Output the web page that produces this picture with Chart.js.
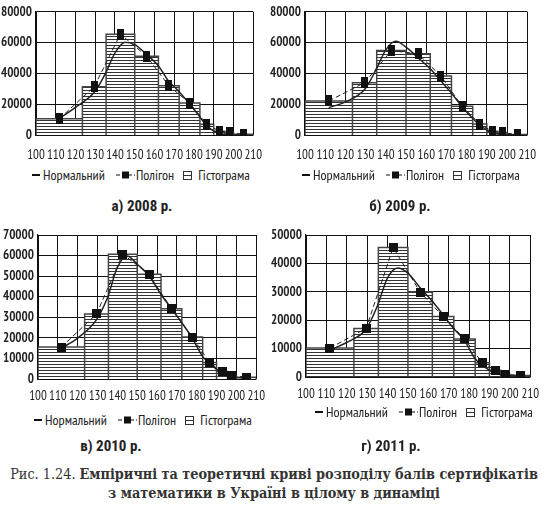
<!DOCTYPE html>
<html>
<head>
<meta charset="utf-8">
<script src="https://cdn.jsdelivr.net/npm/chart.js@4"></script>
<style>
  body { margin: 0; width: 548px; height: 511px; background: #fff; position: relative; overflow: hidden;
         font-family: "PT Sans Narrow", "Roboto Condensed", sans-serif; color: #222; }
  canvas { position: absolute; }
  .legend { position: absolute; display: flex; align-items: center; font-size: 14px; white-space: nowrap; }
  .legend .s1 { margin-right: 3px; }
  .legend .s2 { margin-right: 1px; }
  .legend .s3 { margin-right: 5px; }
  .legend .t1 { margin-right: 11px; }
  .legend .t2 { margin-right: 9px; }
  .sub { position: absolute; font-family: "Roboto Condensed", "PT Sans Narrow", sans-serif; font-size: 15px;
         font-weight: bold; white-space: nowrap; transform: translateX(-50%); }
  .caption { position: absolute; left: 0; width: 548px; text-align: center; white-space: nowrap;
             font-family: "DejaVu Serif Condensed", "DejaVu Serif", serif; font-size: 14.3px; line-height: 19px; color: #333; }
</style>
</head>
<body>
<canvas id="c2008" width="274" height="165" style="left:0;top:0"></canvas>
<canvas id="c2009" width="278" height="165" style="left:270px;top:0"></canvas>
<canvas id="c2010" width="274" height="189" style="left:0;top:220px"></canvas>
<canvas id="c2011" width="278" height="187" style="left:270px;top:220px"></canvas>

<div class="legend" style="left:32px;top:166px" id="lg2008"></div>
<div class="legend" style="left:302px;top:166px" id="lg2009"></div>
<div class="legend" style="left:34px;top:411px" id="lg2010"></div>
<div class="legend" style="left:315px;top:403px" id="lg2011"></div>

<div class="sub" style="left:142px;top:197px">а) 2008 р.</div>
<div class="sub" style="left:400px;top:197px">б) 2009 р.</div>
<div class="sub" style="left:111px;top:437px">в) 2010 р.</div>
<div class="sub" style="left:391px;top:437px">г) 2011 р.</div>

<div class="caption" style="top:465px">Рис. 1.24. <b>Емпіричні та теоретичні криві розподілу балів сертифікатів</b><br><b>з математики в Україні в цілому в динаміці</b></div>

<script>
// score bins (the same for every year) and their midpoints for the polygon
const binEdges = [100, 123.5, 135.5, 150, 162, 172.5, 183, 190, 195.5, 200, 210];
const midPoints = [111.75, 129.5, 142.75, 156, 167.25, 177.75, 186.5, 192.75, 197.75, 205];
const normalX = [111.75, 120, 129.5, 135, 140, 145, 150, 156, 162, 167, 172, 177.75, 183, 186.5, 192.75, 197.75, 205];

// frequencies per bin (histogram and polygon)
const freq2008 = [10500, 31400, 65500, 51200, 32000, 20700, 7000, 2500, 1500, 500];
const freq2009 = [22100, 34000, 54800, 52700, 38300, 18700, 7100, 2400, 1600, 300];
const freq2010 = [15500, 31600, 60700, 50900, 34100, 20400, 8000, 3600, 1800, 800];
const freq2011 = [10200, 17100, 45600, 29900, 21300, 13400, 5000, 2400, 1000, 500];

// theoretical (normal) curve
const normal2008 = [10700, 18000, 27700, 39500, 53300, 60300, 58700, 52300, 44800, 35200, 28800, 20300, 11700, 5800, 1000, 200, 0];
const normal2009 = [17800, 21500, 29500, 42000, 55300, 60800, 57000, 50100, 43000, 35500, 28000, 18300, 10700, 6400, 1500, 400, 0];
const normal2010 = [15000, 19900, 28900, 39500, 54200, 59800, 55800, 50100, 41100, 34600, 28000, 19900, 10900, 7700, 2800, 1100, 300];
const normal2011 = [9500, 12200, 16900, 25000, 34900, 38400, 36600, 31400, 26700, 22100, 17400, 12800, 6400, 4100, 1400, 600, 200];

const xTicks = [100, 110, 120, 130, 140, 150, 160, 170, 180, 190, 200, 210];
const legendNames = ['Нормальний', 'Полігон', 'Гістограма'];

const NARROW = '"PT Sans Narrow", "Roboto Condensed", sans-serif';

function hatch(ctx) {
    const p = document.createElement('canvas');
    p.width = 4; p.height = 3;
    const g = p.getContext('2d');
    g.fillStyle = '#fff';
    g.fillRect(0, 0, 4, 3);
    g.fillStyle = '#333';
    g.fillRect(0, 0, 4, 1);
    return ctx.createPattern(p, 'repeat');
}

function marker(w, h) {
    const m = document.createElement('canvas');
    m.width = w; m.height = h;
    const g = m.getContext('2d');
    g.fillStyle = '#111';
    g.fillRect(0, 0, w, h);
    return m;
}

// outline of every bar as one path, so each bar gets its full side edges
function histPoints(freq) {
    const pts = [];
    for (let i = 0; i < freq.length; i++) {
        pts.push({x: binEdges[i], y: 0}, {x: binEdges[i], y: freq[i]},
                 {x: binEdges[i + 1], y: freq[i]}, {x: binEdges[i + 1], y: 0});
    }
    return pts;
}

function makeChart(id, freq, normal, yMax, yStep, yWidth, pad, mark) {
    const ctx = document.getElementById(id).getContext('2d');
    return new Chart(ctx, {
        type: 'line',
        data: {
            datasets: [
                {
                    label: legendNames[2],
                    data: histPoints(freq),
                    borderColor: '#444',
                    borderWidth: 1.5,
                    backgroundColor: hatch(ctx),
                    fill: 'origin',
                    pointRadius: 0,
                    tension: 0,
                    order: 3
                },
                {
                    label: legendNames[0],
                    data: normalX.map((x, i) => ({x: x, y: normal[i]})),
                    borderColor: '#222',
                    borderWidth: 1.5,
                    pointRadius: 0,
                    cubicInterpolationMode: 'monotone',
                    fill: false,
                    order: 2
                },
                {
                    label: legendNames[1],
                    data: midPoints.map((x, i) => ({x: x, y: freq[i]})),
                    borderColor: '#222',
                    borderWidth: 1,
                    borderDash: [5, 3],
                    pointStyle: mark,
                    pointRadius: 5,
                    fill: false,
                    order: 1
                }
            ]
        },
        options: {
            responsive: false,
            animation: false,
            layout: {padding: pad},
            plugins: {legend: {display: false}, tooltip: {enabled: false}},
            scales: {
                x: {
                    type: 'linear',
                    min: 100,
                    max: 210,
                    afterBuildTicks: s => { s.ticks = xTicks.map(v => ({value: v})); },
                    afterFit: s => { s.height = 30; },
                    grid: {color: '#111', lineWidth: 1, drawTicks: false},
                    border: {color: '#111', width: 1.2},
                    ticks: {color: '#222', padding: pad.tickPad, maxRotation: 0, autoSkip: false,
                            font: {family: NARROW, size: 13}}
                },
                y: {
                    min: 0,
                    max: yMax,
                    afterFit: s => { s.width = yWidth; },
                    grid: {color: '#111', lineWidth: 1, drawTicks: false},
                    border: {color: '#111', width: 1.2},
                    ticks: {stepSize: yStep, color: '#222', padding: 4,
                            font: {family: NARROW, size: 13, weight: 'bold'},
                            callback: v => v}
                }
            }
        }
    });
}

function makeLegend(id) {
    const el = document.getElementById(id);
    el.innerHTML =
        '<svg class="s1" width="8" height="10"><line x1="0" y1="5" x2="8" y2="5" stroke="#111" stroke-width="2"/></svg>' +
        '<span class="t1">' + legendNames[0] + '</span>' +
        '<svg class="s2" width="19" height="10"><line x1="0" y1="5" x2="19" y2="5" stroke="#111" stroke-width="1.2" stroke-dasharray="4,2"/>' +
        '<rect x="6" y="1.5" width="7" height="7" fill="#111"/></svg>' +
        '<span class="t2">' + legendNames[1] + '</span>' +
        '<svg class="s3" width="10" height="10"><rect x="0.5" y="1.5" width="8" height="8" fill="#fff" stroke="#333"/>' +
        '<line x1="0.5" y1="5.5" x2="8.5" y2="5.5" stroke="#333"/></svg>' +
        '<span>' + legendNames[2] + '</span>';
}

const tall = marker(7, 11);
const square = marker(9, 9);

makeChart('c2008', freq2008, normal2008, 80000, 20000, 36, {top: 10, right: 13, left: 0, bottom: 0, tickPad: 12}, tall);
makeChart('c2009', freq2009, normal2009, 80000, 20000, 35, {top: 11, right: 13, left: 0, bottom: 0, tickPad: 12}, tall);
makeChart('c2010', freq2010, normal2010, 70000, 10000, 38, {top: 15, right: 11, left: 0, bottom: 0, tickPad: 9}, square);
makeChart('c2011', freq2011, normal2011, 50000, 10000, 36, {top: 15, right: 12, left: 0, bottom: 0, tickPad: 9}, square);

['lg2008', 'lg2009', 'lg2010', 'lg2011'].forEach(makeLegend);
</script>
</body>
</html>
